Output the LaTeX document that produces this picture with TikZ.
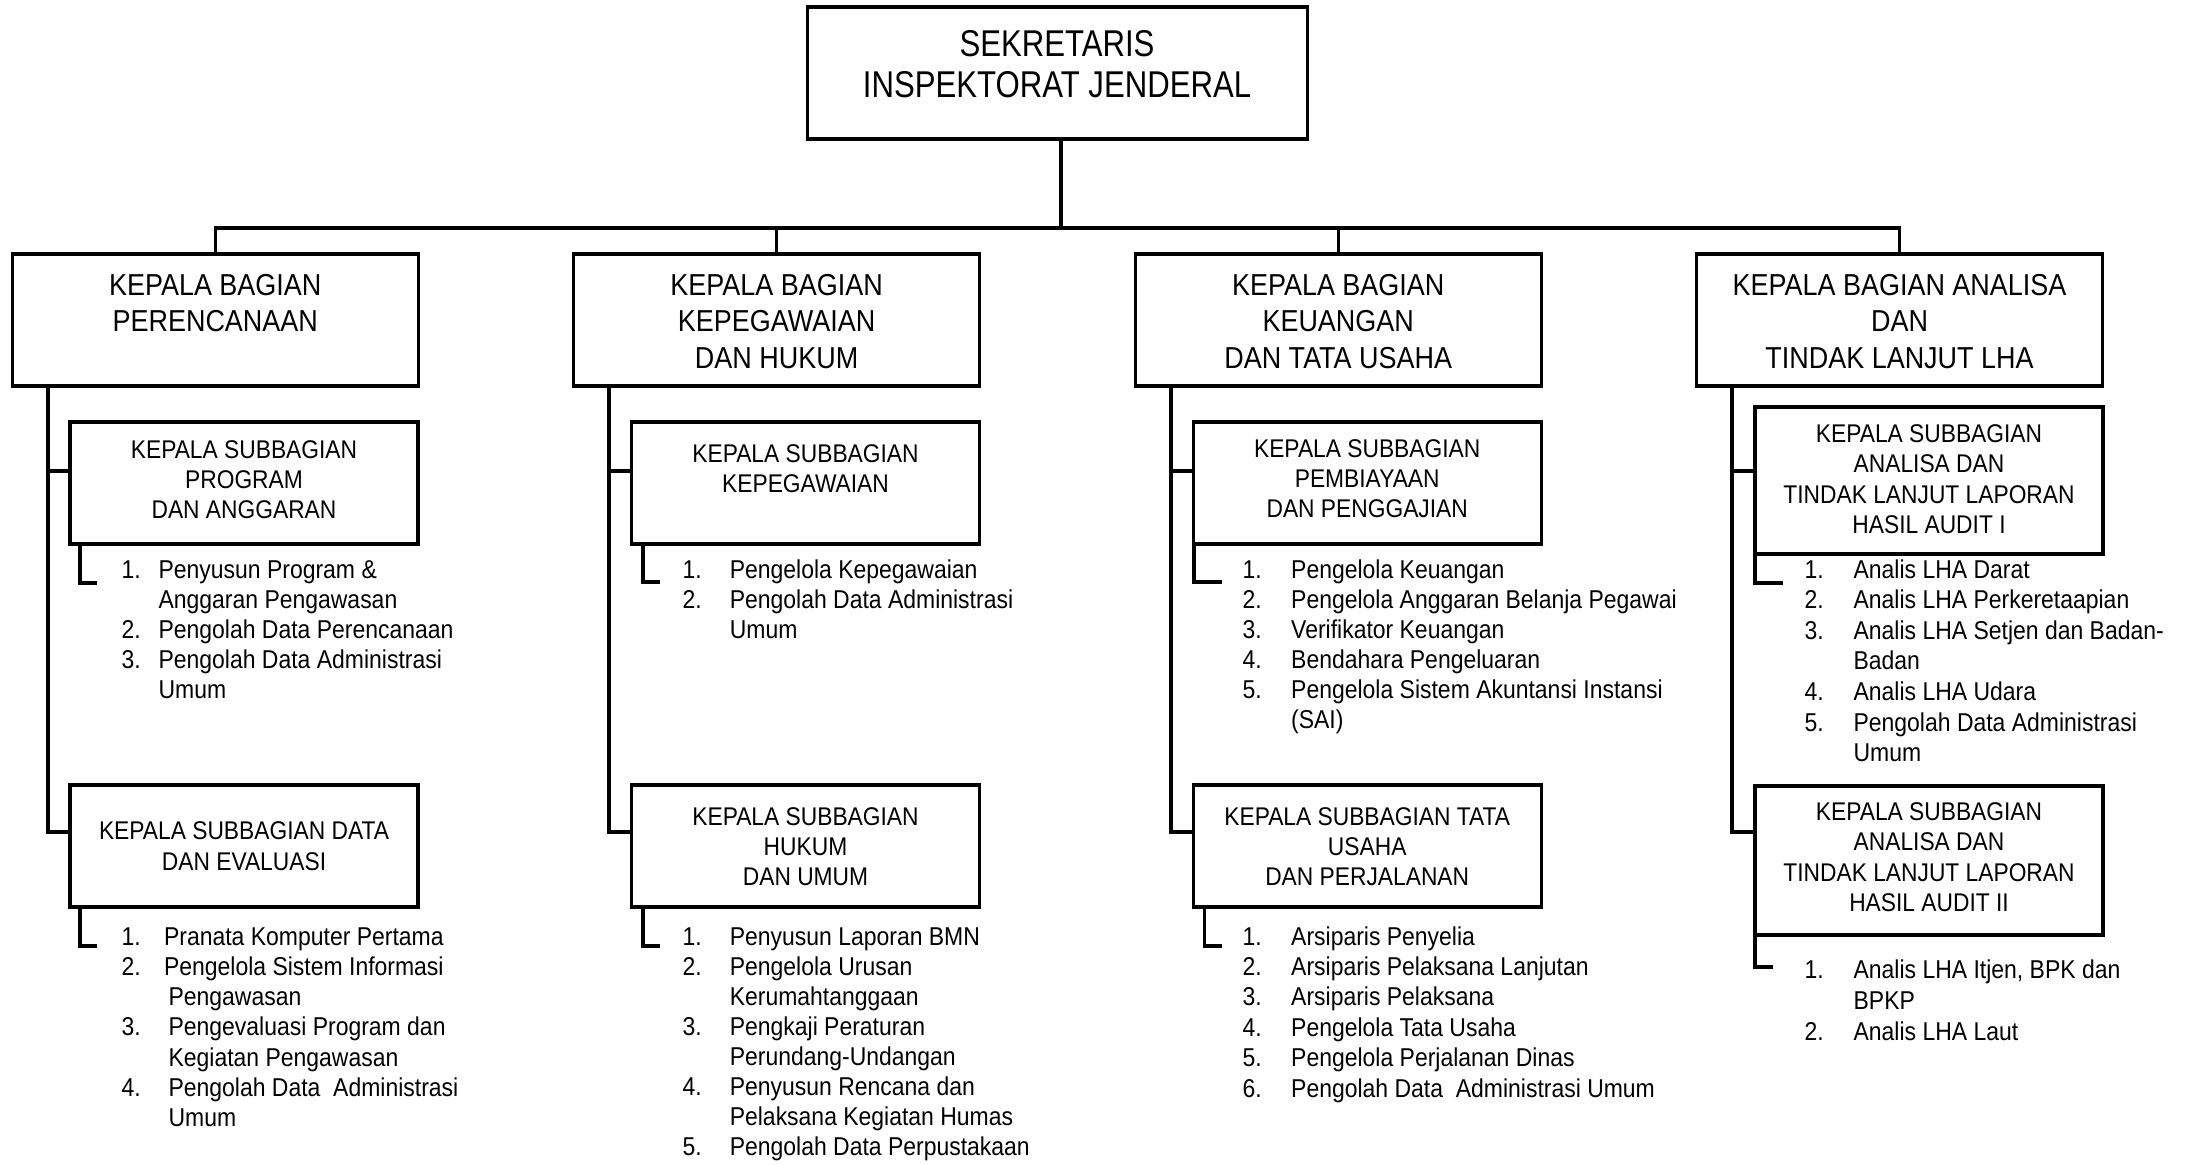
\documentclass[tikz,border=0pt]{standalone}
\usepackage{fontspec}
\setmainfont{Liberation Sans}[FakeStretch=0.89]
\newfontfamily\tfont{Liberation Sans}[FakeStretch=0.835]
\newlength\numw
\newcommand\myit[2]{\makebox[\numw][l]{#1}#2}
\begin{document}
\begin{tikzpicture}[x=0.5pt,y=-0.5pt,line width=1.6pt,
  bx/.style={draw,line width=1.6pt,inner sep=0pt,fill=white},
  lvone/.style={bx,minimum width=203pt,minimum height=66pt},
  lvtwo/.style={bx,minimum width=174pt,minimum height=61pt},
  ttl/.style={inner sep=0pt,anchor=base},
  lst/.style={inner sep=0pt,anchor=base west},
  conn/.style={line width=1.6pt}]
\fill[white] (0,0) rectangle (2187,1164);
\useasboundingbox (0,0) rectangle (2187,1164);

% boxes
\node[bx,minimum width=249.85pt,minimum height=66pt] (T) at (1057.5,73) {};
\node[lvone] (A) at (215.25,320) {};
\node[lvone] (B) at (776.6,320) {};
\node[lvone] (C) at (1338.2,320) {};
\node[lvone] (D) at (1899.5,320) {};
\node[lvtwo] (A1) at (244,483) {};
\node[lvtwo] (A2) at (244,846) {};
\node[lvtwo] (B1) at (805.5,483) {};
\node[lvtwo] (B2) at (805.5,846) {};
\node[lvtwo] (C1) at (1367.2,483) {};
\node[lvtwo] (C2) at (1367.2,846) {};
\node[lvtwo,minimum height=73.5pt] (D1) at (1929,480.5) {};
\node[lvtwo,minimum height=74.5pt] (D2) at (1929,860.5) {};

% top connectors
\coordinate (bus) at (1061,228);
\draw[conn] (T.south -| bus) -- (bus);
\draw[conn] (A.north) -- (A.north |- bus) -- (D.north |- bus) -- (D.north);
\draw[conn] (B.north) -- (B.north |- bus);
\draw[conn] (C.north) -- (C.north |- bus);

% trunks
\coordinate (j1) at (0,471);
\coordinate (j2) at (0,832);
\coordinate (tA) at (48,0);
\coordinate (tB) at (609,0);
\coordinate (tC) at (1171,0);
\coordinate (tD) at (1732,0);
\draw[conn] (A.south -| tA) -- (tA |- j2) -- (A2.west |- j2);
\draw[conn] (tA |- j1) -- (A1.west |- j1);
\draw[conn] (B.south -| tB) -- (tB |- j2) -- (B2.west |- j2);
\draw[conn] (tB |- j1) -- (B1.west |- j1);
\draw[conn] (C.south -| tC) -- (tC |- j2) -- (C2.west |- j2);
\draw[conn] (tC |- j1) -- (C1.west |- j1);
\draw[conn] (D.south -| tD) -- (tD |- j2) -- (D2.west |- j2);
\draw[conn] (tD |- j1) -- (D1.west |- j1);

% brackets
\coordinate (eA1) at (97,583);   \coordinate (kA1) at (80,0);
\coordinate (eA2) at (97,946);
\coordinate (eB1) at (660,582);  \coordinate (kB1) at (643,0);
\coordinate (eB2) at (660,946);
\coordinate (eC1) at (1222,582); \coordinate (kC1) at (1194,0);
\coordinate (eC2) at (1222,946); \coordinate (kC2) at (1204.5,0);
\coordinate (eD1) at (1783,583); \coordinate (kD1) at (1755,0);
\coordinate (eD2) at (1773,967);
\draw[conn] (A1.south -| kA1) |- (eA1);
\draw[conn] (A2.south -| kA1) |- (eA2);
\draw[conn] (B1.south -| kB1) |- (eB1);
\draw[conn] (B2.south -| kB1) |- (eB2);
\draw[conn] (C1.south -| kC1) |- (eC1);
\draw[conn] (C2.south -| kC2) |- (eC2);
\draw[conn] (D1.south -| kD1) |- (eD1);
\draw[conn] (D2.south -| kD1) |- (eD2);

% titles
\node[ttl,font=\tfont\fontsize{18.65}{20.5}\selectfont] (tT) at (1057,56)
  {\begin{tabular}[t]{@{}c@{}}SEKRETARIS\\INSPEKTORAT JENDERAL\end{tabular}};
\node[ttl,font=\fontsize{15.15}{18.25}\selectfont] (tA) at (215.25,295)
  {\begin{tabular}[t]{@{}c@{}}KEPALA BAGIAN\\PERENCANAAN\end{tabular}};
\node[ttl,font=\fontsize{15.15}{18.25}\selectfont] (tB) at (776.6,295)
  {\begin{tabular}[t]{@{}c@{}}KEPALA BAGIAN\\KEPEGAWAIAN\\DAN HUKUM\end{tabular}};
\node[ttl,font=\fontsize{15.15}{18.25}\selectfont] (tC) at (1338.2,295)
  {\begin{tabular}[t]{@{}c@{}}KEPALA BAGIAN\\KEUANGAN\\DAN TATA USAHA\end{tabular}};
\node[ttl,font=\fontsize{15.15}{18.25}\selectfont] (tD) at (1899.5,295)
  {\begin{tabular}[t]{@{}c@{}}KEPALA BAGIAN ANALISA\\DAN\\TINDAK LANJUT LHA\end{tabular}};

\node[ttl,font=\fontsize{12.8}{15}\selectfont] (tA1) at (244,458)
  {\begin{tabular}[t]{@{}c@{}}KEPALA SUBBAGIAN\\PROGRAM\\DAN ANGGARAN\end{tabular}};
\node[ttl,font=\fontsize{12.8}{15.5}\selectfont] (tA2) at (244,839)
  {\begin{tabular}[t]{@{}c@{}}KEPALA SUBBAGIAN DATA\\DAN EVALUASI\end{tabular}};
\node[ttl,font=\fontsize{12.8}{15}\selectfont] (tB1) at (805.5,462)
  {\begin{tabular}[t]{@{}c@{}}KEPALA SUBBAGIAN\\KEPEGAWAIAN\end{tabular}};
\node[ttl,font=\fontsize{12.8}{15}\selectfont] (tB2) at (805.5,825)
  {\begin{tabular}[t]{@{}c@{}}KEPALA SUBBAGIAN\\HUKUM\\DAN UMUM\end{tabular}};
\node[ttl,font=\fontsize{12.8}{15}\selectfont] (tC1) at (1367.2,457)
  {\begin{tabular}[t]{@{}c@{}}KEPALA SUBBAGIAN\\PEMBIAYAAN\\DAN PENGGAJIAN\end{tabular}};
\node[ttl,font=\fontsize{12.8}{15}\selectfont] (tC2) at (1367.2,825)
  {\begin{tabular}[t]{@{}c@{}}KEPALA SUBBAGIAN TATA\\USAHA\\DAN PERJALANAN\end{tabular}};
\node[ttl,font=\fontsize{12.8}{15.3}\selectfont] (tD1) at (1929,442)
  {\begin{tabular}[t]{@{}c@{}}KEPALA SUBBAGIAN\\ANALISA DAN\\TINDAK LANJUT LAPORAN\\HASIL AUDIT I\end{tabular}};
\node[ttl,font=\fontsize{12.8}{15.3}\selectfont] (tD2) at (1929,820)
  {\begin{tabular}[t]{@{}c@{}}KEPALA SUBBAGIAN\\ANALISA DAN\\TINDAK LANJUT LAPORAN\\HASIL AUDIT II\end{tabular}};

% lists
\node[lst,font=\fontsize{12.9}{15}\selectfont] (lA1) at (120,578)
  {\setlength\numw{18.5pt}\begin{tabular}[t]{@{}l@{}}
  \myit{1.}{Penyusun Program \&}\\
  \myit{}{Anggaran Pengawasan}\\
  \myit{2.}{Pengolah Data Perencanaan}\\
  \myit{3.}{Pengolah Data Administrasi}\\
  \myit{}{Umum}\end{tabular}};
\node[lst,font=\fontsize{12.9}{15.15}\selectfont] (lA2) at (120,945)
  {\setlength\numw{21.25pt}\begin{tabular}[t]{@{}l@{}}
  \myit{1.}{Pranata Komputer Pertama}\\
  \myit{2.}{Pengelola Sistem Informasi}\\
  \myit{}{\hspace*{2.25pt}Pengawasan}\\
  \myit{3.}{\hspace*{2.25pt}Pengevaluasi Program dan}\\
  \myit{}{\hspace*{2.25pt}Kegiatan Pengawasan}\\
  \myit{4.}{\hspace*{2.25pt}Pengolah Data\ \ Administrasi}\\
  \myit{}{\hspace*{2.25pt}Umum}\end{tabular}};
\node[lst,font=\fontsize{12.9}{15}\selectfont] (lB1) at (681,578)
  {\setlength\numw{23.6pt}\begin{tabular}[t]{@{}l@{}}
  \myit{1.}{Pengelola Kepegawaian}\\
  \myit{2.}{Pengolah Data Administrasi}\\
  \myit{}{Umum}\end{tabular}};
\node[lst,font=\fontsize{12.9}{15}\selectfont] (lB2) at (681,945)
  {\setlength\numw{23.6pt}\begin{tabular}[t]{@{}l@{}}
  \myit{1.}{Penyusun Laporan BMN}\\
  \myit{2.}{Pengelola Urusan}\\
  \myit{}{Kerumahtanggaan}\\
  \myit{3.}{Pengkaji Peraturan}\\
  \myit{}{Perundang-Undangan}\\
  \myit{4.}{Penyusun Rencana dan}\\
  \myit{}{Pelaksana Kegiatan Humas}\\
  \myit{5.}{Pengolah Data Perpustakaan}\end{tabular}};
\node[lst,font=\fontsize{12.9}{15}\selectfont] (lC1) at (1241,578)
  {\setlength\numw{24.3pt}\begin{tabular}[t]{@{}l@{}}
  \myit{1.}{Pengelola Keuangan}\\
  \myit{2.}{Pengelola Anggaran Belanja Pegawai}\\
  \myit{3.}{Verifikator Keuangan}\\
  \myit{4.}{Bendahara Pengeluaran}\\
  \myit{5.}{Pengelola Sistem Akuntansi Instansi}\\
  \myit{}{(SAI)}\end{tabular}};
\node[lst,font=\fontsize{12.9}{15.2}\selectfont] (lC2) at (1241,945)
  {\setlength\numw{24.3pt}\begin{tabular}[t]{@{}l@{}}
  \myit{1.}{Arsiparis Penyelia}\\
  \myit{2.}{Arsiparis Pelaksana Lanjutan}\\
  \myit{3.}{Arsiparis Pelaksana}\\
  \myit{4.}{Pengelola Tata Usaha}\\
  \myit{5.}{Pengelola Perjalanan Dinas}\\
  \myit{6.}{Pengolah Data\ \ Administrasi Umum}\end{tabular}};
\node[lst,font=\fontsize{12.9}{15.3}\selectfont] (lD1) at (1803,578)
  {\setlength\numw{24.5pt}\begin{tabular}[t]{@{}l@{}}
  \myit{1.}{Analis LHA Darat}\\
  \myit{2.}{Analis LHA Perkeretaapian}\\
  \myit{3.}{Analis LHA Setjen dan Badan-}\\
  \myit{}{Badan}\\
  \myit{4.}{Analis LHA Udara}\\
  \myit{5.}{Pengolah Data Administrasi}\\
  \myit{}{Umum}\end{tabular}};
\node[lst,font=\fontsize{12.9}{15.5}\selectfont] (lD2) at (1803,978)
  {\setlength\numw{24.5pt}\begin{tabular}[t]{@{}l@{}}
  \myit{1.}{Analis LHA Itjen, BPK dan}\\
  \myit{}{BPKP}\\
  \myit{2.}{Analis LHA Laut}\end{tabular}};
\end{tikzpicture}
\end{document}
